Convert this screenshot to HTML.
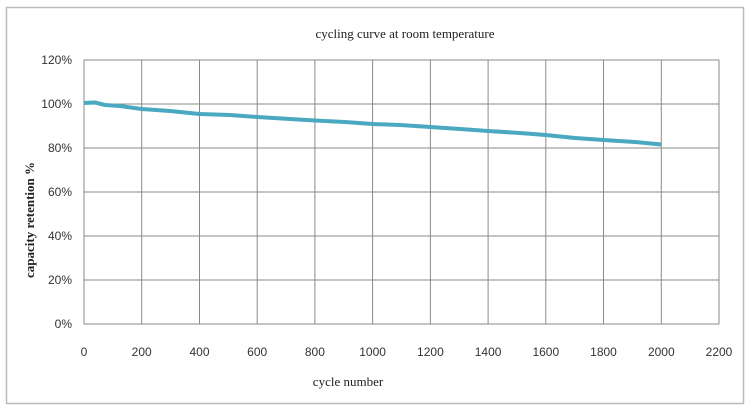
<!DOCTYPE html>
<html><head><style>
body{margin:0;background:#fff;}
svg{display:block;font-family:"Liberation Sans",sans-serif;}
</style></head><body>
<svg width="750" height="410" xmlns="http://www.w3.org/2000/svg">
<rect x="0" y="0" width="750" height="410" fill="#fff"/>
<rect x="6.5" y="7.5" width="737" height="396" fill="#fff" stroke="#bbb" stroke-width="1.5"/>
<g stroke="#8a8a8a" stroke-width="1">
<line x1="84" y1="60" x2="719" y2="60"/>
<line x1="84" y1="104" x2="719" y2="104"/>
<line x1="84" y1="148" x2="719" y2="148"/>
<line x1="84" y1="192" x2="719" y2="192"/>
<line x1="84" y1="236" x2="719" y2="236"/>
<line x1="84" y1="280" x2="719" y2="280"/>
<line x1="84" y1="324" x2="719" y2="324"/>
<line x1="84" y1="60" x2="84" y2="324"/>
<line x1="141.7" y1="60" x2="141.7" y2="324"/>
<line x1="199.5" y1="60" x2="199.5" y2="324"/>
<line x1="257.2" y1="60" x2="257.2" y2="324"/>
<line x1="314.9" y1="60" x2="314.9" y2="324"/>
<line x1="372.6" y1="60" x2="372.6" y2="324"/>
<line x1="430.4" y1="60" x2="430.4" y2="324"/>
<line x1="488.1" y1="60" x2="488.1" y2="324"/>
<line x1="545.8" y1="60" x2="545.8" y2="324"/>
<line x1="603.5" y1="60" x2="603.5" y2="324"/>
<line x1="661.3" y1="60" x2="661.3" y2="324"/>
<line x1="719" y1="60" x2="719" y2="324"/>
</g>
<polyline fill="none" stroke="#4aa8c0" stroke-width="4" stroke-linejoin="round" points="84,103 95,102.5 105,105 120,106 141.7,109 170,111 199.5,114 230,115 257.2,117 290,119 314.9,120.5 345,122 372.6,124 400,125 430.4,127 460,129 488.1,131 520,133 545.8,135 575,138 603.5,140 635,142 661.3,144.5"/>
<g font-size="12" fill="#333" text-anchor="end">
<text x="72" y="64">120%</text>
<text x="72" y="108">100%</text>
<text x="72" y="152">80%</text>
<text x="72" y="196">60%</text>
<text x="72" y="240">40%</text>
<text x="72" y="284">20%</text>
<text x="72" y="328">0%</text>
</g>
<g font-size="12" fill="#333" text-anchor="middle">
<text x="84" y="356">0</text>
<text x="141.7" y="356">200</text>
<text x="199.5" y="356">400</text>
<text x="257.2" y="356">600</text>
<text x="314.9" y="356">800</text>
<text x="372.6" y="356">1000</text>
<text x="430.4" y="356">1200</text>
<text x="488.1" y="356">1400</text>
<text x="545.8" y="356">1600</text>
<text x="603.5" y="356">1800</text>
<text x="661.3" y="356">2000</text>
<text x="719" y="356">2200</text>
</g>
<text x="405" y="38" font-family="Liberation Serif,serif" font-size="13" text-anchor="middle" fill="#222">cycling  curve at room temperature</text>
<text x="348" y="386" font-family="Liberation Serif,serif" font-size="13" text-anchor="middle" fill="#222">cycle number</text>
<text transform="translate(34,220) rotate(-90)" font-family="Liberation Serif,serif" font-size="13" font-weight="bold" text-anchor="middle" fill="#222">capacity retention %</text>
</svg>
</body></html>
